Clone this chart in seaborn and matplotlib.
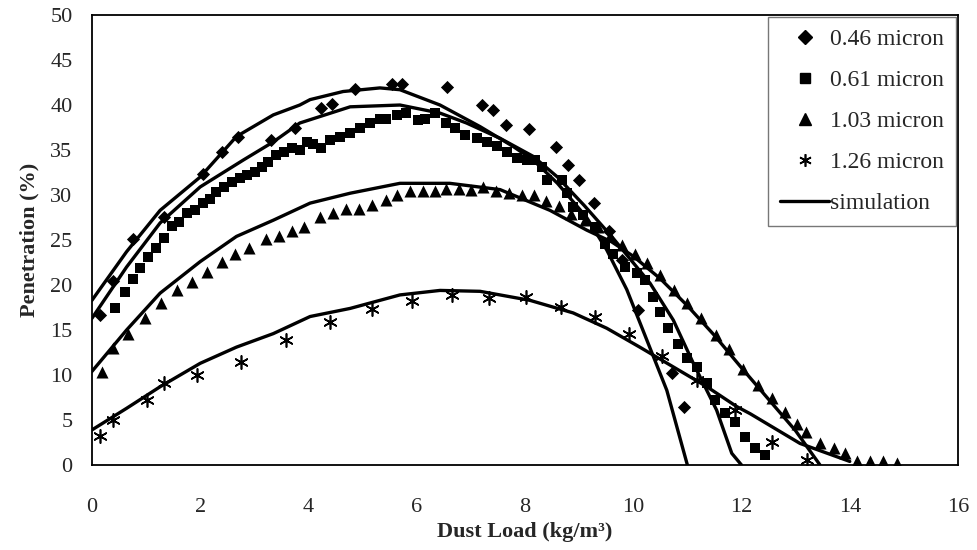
import matplotlib
matplotlib.use("Agg")
import matplotlib.pyplot as plt
import seaborn as sns
from matplotlib.lines import Line2D

# measured points
x046 = [0.15, 0.38, 0.75, 1.33, 2.06, 2.41, 2.69, 3.30, 3.76, 4.24, 4.43, 4.86, 5.54, 5.72,
        6.56, 7.20, 7.41, 7.64, 8.08, 8.57, 8.79, 9.00, 9.27, 9.55, 9.80, 10.08, 10.71, 10.93]
y046 = [16.7, 20.4, 25.1, 27.6, 32.3, 34.8, 36.4, 36.1, 37.4, 39.7, 40.1, 41.8, 42.3, 42.3,
        42.0, 40.0, 39.4, 37.8, 37.3, 35.3, 33.3, 31.7, 29.1, 26.0, 22.8, 17.2, 10.2, 6.4]

x061 = [0.42, 0.61, 0.75, 0.89, 1.03, 1.19, 1.34, 1.47, 1.61, 1.75, 1.90, 2.06, 2.18, 2.30, 2.44,
        2.58, 2.73, 2.87, 3.01, 3.14, 3.26, 3.40, 3.54, 3.69, 3.84, 3.97, 4.09, 4.24, 4.40, 4.58,
        4.77, 4.95, 5.14, 5.32, 5.44, 5.63, 5.81, 6.03, 6.15, 6.34, 6.55, 6.71, 6.89, 7.11, 7.29,
        7.48, 7.66, 7.85, 8.03, 8.18, 8.31, 8.40, 8.68, 8.77, 8.89, 9.08, 9.29, 9.48, 9.63, 9.85,
        10.06, 10.22, 10.37, 10.49, 10.65, 10.83, 10.99, 11.17, 11.36, 11.51, 11.70, 11.88, 12.06,
        12.25, 12.43]
y061 = [17.4, 19.2, 20.7, 21.9, 23.1, 24.1, 25.2, 26.6, 27.0, 28.0, 28.3, 29.1, 29.6, 30.3, 30.9,
        31.5, 31.9, 32.2, 32.6, 33.1, 33.7, 34.4, 34.8, 35.2, 35.0, 35.9, 35.7, 35.2, 36.1, 36.5,
        36.9, 37.4, 38.0, 38.4, 38.5, 38.9, 39.1, 38.3, 38.5, 39.1, 38.0, 37.4, 36.7, 36.3, 35.9,
        35.4, 34.8, 34.1, 33.9, 33.9, 33.1, 31.7, 31.7, 30.2, 28.7, 27.8, 26.5, 24.6, 23.5, 22.0,
        21.3, 20.6, 18.7, 17.0, 15.2, 13.5, 11.9, 10.9, 9.1, 7.2, 5.8, 4.8, 3.1,
        1.9, 1.1]

x103 = [0.18, 0.39, 0.67, 0.98, 1.27, 1.58, 1.85, 2.13, 2.40, 2.64, 2.91, 3.21, 3.45, 3.69, 3.92,
        4.21, 4.46, 4.70, 4.94, 5.17, 5.43, 5.64, 5.88, 6.11, 6.34, 6.55, 6.78, 7.01, 7.23, 7.46,
        7.71, 7.94, 8.17, 8.39, 8.62, 8.85, 9.10, 9.35, 9.57, 9.80, 10.03, 10.25, 10.50, 10.75,
        10.99, 11.26, 11.52, 11.77, 12.03, 12.31, 12.56, 12.80, 13.02, 13.20, 13.45, 13.70, 13.91,
        14.13, 14.37, 14.62, 14.87]
y103 = [10.3, 13.0, 14.6, 16.3, 18.0, 19.4, 20.3, 21.4, 22.6, 23.4, 24.1, 25.1, 25.4, 26.0, 26.5,
        27.6, 28.0, 28.4, 28.4, 28.9, 29.5, 30.0, 30.4, 30.4, 30.4, 30.7, 30.7, 30.6, 30.9, 30.4,
        30.2, 30.0, 30.0, 29.3, 28.8, 27.9, 27.2, 26.4, 25.5, 24.5, 23.5, 22.4, 21.1, 19.5,
        18.0, 16.3, 14.5, 12.9, 10.7, 8.9, 7.4, 5.9, 4.6, 3.7, 2.4, 1.9, 1.3,
        0.4, 0.4, 0.4, 0.2]

x126 = [0.15, 0.38, 1.02, 1.33, 1.95, 2.75, 3.58, 4.40, 5.17, 5.91, 6.65, 7.34, 8.02, 8.66,
        9.29, 9.93, 10.54, 11.17, 11.88, 12.56, 13.21]
y126 = [3.2, 5.0, 7.2, 9.1, 10.0, 11.5, 13.9, 15.9, 17.3, 18.2, 18.9, 18.6, 18.7, 17.6,
        16.4, 14.6, 12.1, 9.4, 6.1, 2.6, 0.6]

# simulation curves
sx046 = [0, 0.64, 1.26, 2.0, 2.67, 3.35, 3.84, 4.03, 4.64, 5.32, 5.69, 6.43, 7.17, 7.78, 8.15,
         8.6, 9.14, 9.51, 9.88, 10.25, 10.62, 11.0]
sy046 = [18.3, 23.7, 28.3, 32.0, 36.5, 38.9, 40.0, 40.6, 41.5, 41.9, 41.7, 40.0, 37.6, 35.4, 33.9,
         31.3, 27.5, 23.9, 19.5, 13.9, 8.3, 0.0]

sx061 = [0, 0.64, 1.26, 2.0, 2.8, 3.35, 3.84, 4.77, 5.69, 6.43, 6.92, 7.54, 8.15, 8.6, 9.1, 9.6,
         10.31, 10.74, 11.11, 11.54, 11.82, 12.0]
sy061 = [16.3, 22.0, 26.9, 30.9, 33.9, 35.9, 38.0, 39.8, 40.0, 39.1, 38.0, 36.3, 34.3, 32.0, 28.8,
         25.4, 20.2, 16.1, 11.3, 6.1, 1.3, 0.0]

sx103 = [0, 0.64, 1.26, 2.0, 2.67, 3.35, 4.03, 4.77, 5.69, 6.61, 7.54, 8.46, 9.14, 9.6, 10.0,
         10.5, 11.0, 11.5, 12.0, 12.5, 13.0, 13.45]
sy103 = [10.4, 15.0, 19.1, 22.6, 25.4, 27.2, 29.1, 30.2, 31.3, 31.3, 30.6, 28.3, 26.1, 24.8, 23.2,
         20.7, 17.7, 14.4, 10.8, 7.3, 3.8, 0.0]

sx126 = [0, 0.64, 1.26, 2.0, 2.67, 3.35, 4.03, 4.77, 5.69, 6.43, 7.17, 8.09, 8.89, 9.51, 10.12,
         10.74, 11.36, 11.91, 12.16, 13.08, 14.0]
sy126 = [3.9, 6.3, 8.7, 11.3, 13.1, 14.6, 16.5, 17.4, 18.9, 19.4, 19.3, 18.3, 16.9, 15.2, 13.1,
         10.9, 8.7, 6.5, 5.7, 2.4, 0.4]

sns.set_style("white")
plt.rcParams['font.family'] = ['Liberation Serif', 'DejaVu Serif']

fig, ax = plt.subplots(figsize=(9.78, 5.5), dpi=100)
fig.subplots_adjust(left=0.094, right=0.9796, top=0.9727, bottom=0.1545)

for sx, sy in [(sx046, sy046), (sx061, sy061), (sx103, sy103), (sx126, sy126)]:
    sns.lineplot(x=sx, y=sy, color='black', linewidth=2.4, sort=False, ax=ax, legend=False)

sns.scatterplot(x=x046, y=y046, marker='D', color='black', s=45, linewidth=0, ax=ax)
sns.scatterplot(x=x061, y=y061, marker='s', color='black', s=60, linewidth=0, ax=ax)
sns.scatterplot(x=x103, y=y103, marker='^', color='black', s=75, linewidth=0, ax=ax)
sns.scatterplot(x=x126, y=y126, marker=(6, 2, 0), color='black', s=90, linewidth=1.2, ax=ax)

ax.set_xlim(0, 16)
ax.set_ylim(0, 50)
ax.set_xticks(range(0, 17, 2))
ax.set_yticks(range(0, 51, 5))
for sp in ax.spines.values():
    sp.set_color('black')
    sp.set_linewidth(1.3)
ax.tick_params(direction='out', length=7, width=1.2, color='black', labelsize=16)
ax.tick_params(axis='x', pad=17)
ax.tick_params(axis='y', pad=7)

ax.set_xlabel('Dust Load (kg/m³)', fontsize=16, fontweight='bold', labelpad=3)
ax.set_ylabel('Penetration (%)', fontsize=16, fontweight='bold', labelpad=8)

handles = [
    Line2D([], [], marker='D', color='black', ls='none', markersize=7),
    Line2D([], [], marker='s', color='black', ls='none', markersize=7.5),
    Line2D([], [], marker='^', color='black', ls='none', markersize=8.5),
    Line2D([], [], marker=(6, 2, 0), color='black', ls='none', markersize=9, markeredgewidth=1.2),
    Line2D([], [], color='black', lw=2.4),
]
labels = ['0.46 micron', '0.61 micron', '1.03 micron', '1.26 micron', 'simulation']
leg = ax.legend(handles, labels, loc='upper right', bbox_to_anchor=(1.0, 1.0),
                fontsize=17, frameon=True, fancybox=False, edgecolor='#555555',
                handlelength=2.1, handletextpad=0.05, labelspacing=0.82, borderaxespad=0.08,
                borderpad=0.5)
leg.get_frame().set_linewidth(1.0)

plt.savefig('out.png', dpi=100)
